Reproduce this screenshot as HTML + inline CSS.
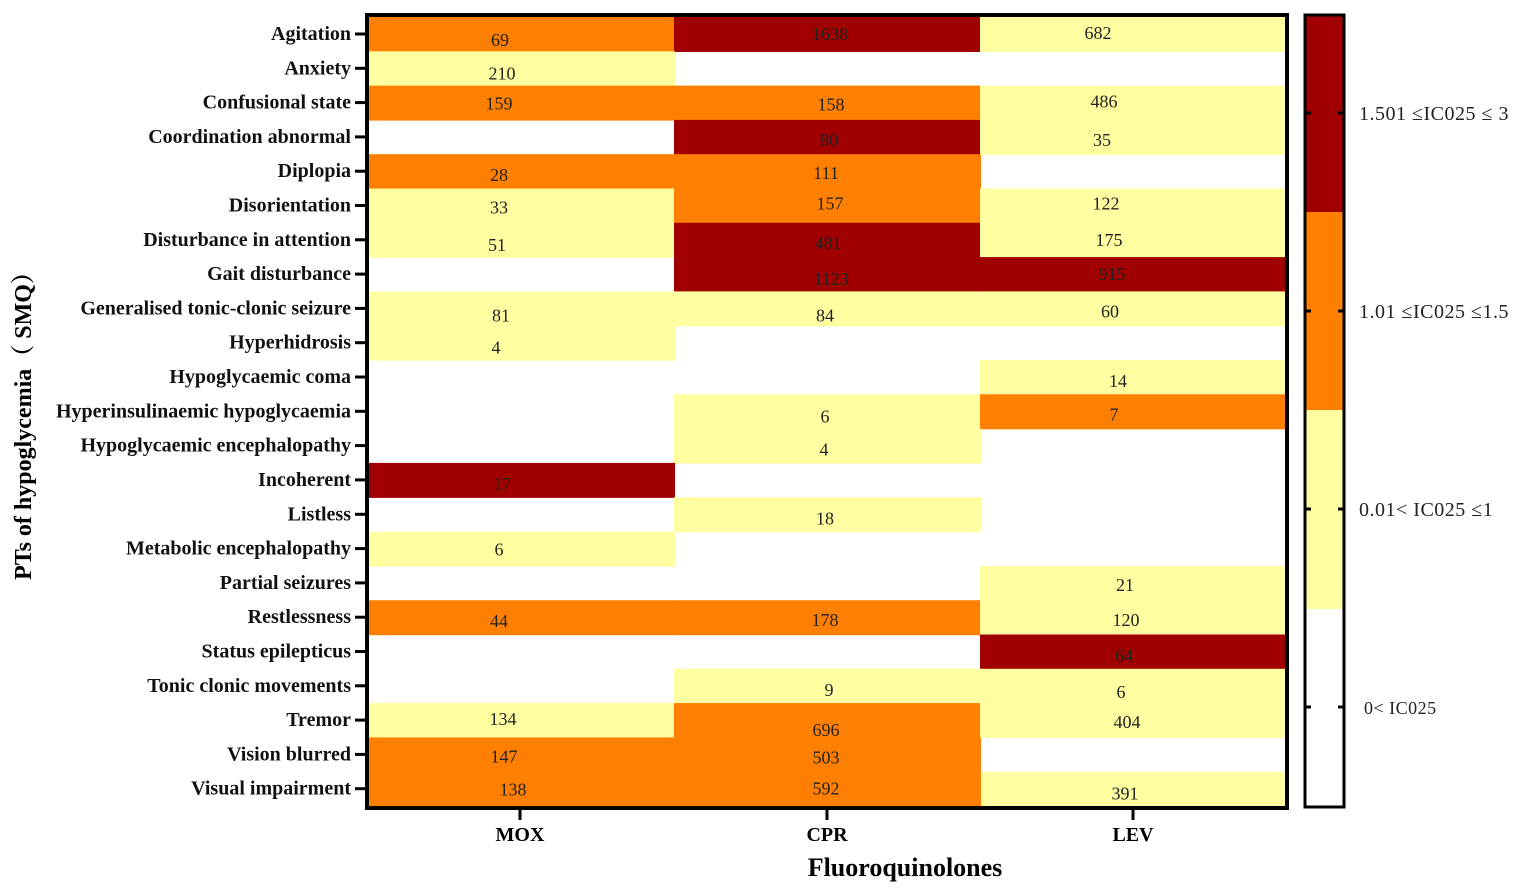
<!DOCTYPE html>
<html><head><meta charset="utf-8"><style>
html,body{margin:0;padding:0;background:#fff;}
svg{display:block;font-family:"Liberation Serif","Noto Serif CJK SC",serif;}
.n{font-size:18px;text-anchor:middle;fill:#222;}
.l{font-size:20px;font-weight:bold;text-anchor:end;fill:#111;}
.Y{fill:#ffffa2}.O{fill:#ff8000}.R{fill:#a00000}
</style></head><body>
<svg width="1535" height="891" viewBox="0 0 1535 891" xmlns="http://www.w3.org/2000/svg">
<defs><line id="tk" x1="355" x2="368" y1="17" y2="17" stroke="#000" stroke-width="3"/></defs>
<g transform="translate(0,17)"><rect class="O" x="369" width="306" height="35"/><rect class="R" x="674" width="307" height="35"/><rect class="Y" x="980" width="306" height="35"/><text class="n" x="500" y="29">69</text><text class="n" x="830" y="23">1638</text><text class="n" x="1098" y="22">682</text><text class="l" x="351" y="23">Agitation</text><use href="#tk"/></g>
<g transform="translate(0,51.3)"><rect class="Y" x="369" width="306" height="35"/><text class="n" x="502" y="28">210</text><text class="l" x="351" y="23">Anxiety</text><use href="#tk"/></g>
<g transform="translate(0,85.6)"><rect class="O" x="369" width="306" height="35"/><rect class="O" x="674" width="307" height="35"/><rect class="Y" x="980" width="306" height="35"/><text class="n" x="499" y="24">159</text><text class="n" x="831" y="25">158</text><text class="n" x="1104" y="22">486</text><text class="l" x="351" y="23">Confusional state</text><use href="#tk"/></g>
<g transform="translate(0,119.9)"><rect class="R" x="674" width="307" height="35"/><rect class="Y" x="980" width="306" height="35"/><text class="n" x="829" y="26">80</text><text class="n" x="1102" y="26">35</text><text class="l" x="351" y="23">Coordination abnormal</text><use href="#tk"/></g>
<g transform="translate(0,154.2)"><rect class="O" x="369" width="306" height="35"/><rect class="O" x="674" width="307" height="35"/><text class="n" x="499" y="27">28</text><text class="n" x="826" y="25">111</text><text class="l" x="351" y="23">Diplopia</text><use href="#tk"/></g>
<g transform="translate(0,188.5)"><rect class="Y" x="369" width="306" height="35"/><rect class="O" x="674" width="307" height="35"/><rect class="Y" x="980" width="306" height="35"/><text class="n" x="499" y="25">33</text><text class="n" x="830" y="21">157</text><text class="n" x="1106" y="21">122</text><text class="l" x="351" y="23">Disorientation</text><use href="#tk"/></g>
<g transform="translate(0,222.8)"><rect class="Y" x="369" width="306" height="35"/><rect class="R" x="674" width="307" height="35"/><rect class="Y" x="980" width="306" height="35"/><text class="n" x="497" y="28">51</text><text class="n" x="828" y="26">481</text><text class="n" x="1109" y="23">175</text><text class="l" x="351" y="23">Disturbance in attention</text><use href="#tk"/></g>
<g transform="translate(0,257.1)"><rect class="R" x="674" width="307" height="35"/><rect class="R" x="980" width="306" height="35"/><text class="n" x="831" y="28">1123</text><text class="n" x="1112" y="23">915</text><text class="l" x="351" y="23">Gait disturbance</text><use href="#tk"/></g>
<g transform="translate(0,291.4)"><rect class="Y" x="369" width="306" height="35"/><rect class="Y" x="674" width="307" height="35"/><rect class="Y" x="980" width="306" height="35"/><text class="n" x="501" y="30">81</text><text class="n" x="825" y="30">84</text><text class="n" x="1110" y="26">60</text><text class="l" x="351" y="23">Generalised tonic-clonic seizure</text><use href="#tk"/></g>
<g transform="translate(0,325.7)"><rect class="Y" x="369" width="306" height="35"/><text class="n" x="496" y="28">4</text><text class="l" x="351" y="23">Hyperhidrosis</text><use href="#tk"/></g>
<g transform="translate(0,360)"><rect class="Y" x="980" width="306" height="35"/><text class="n" x="1118" y="27">14</text><text class="l" x="351" y="23">Hypoglycaemic coma</text><use href="#tk"/></g>
<g transform="translate(0,394.3)"><rect class="Y" x="674" width="307" height="35"/><rect class="O" x="980" width="306" height="35"/><text class="n" x="825" y="28">6</text><text class="n" x="1114" y="26">7</text><text class="l" x="351" y="23">Hyperinsulinaemic hypoglycaemia</text><use href="#tk"/></g>
<g transform="translate(0,428.6)"><rect class="Y" x="674" width="307" height="35"/><text class="n" x="824" y="27">4</text><text class="l" x="351" y="23">Hypoglycaemic encephalopathy</text><use href="#tk"/></g>
<g transform="translate(0,462.9)"><rect class="R" x="369" width="306" height="35"/><text class="n" x="502" y="27">17</text><text class="l" x="351" y="23">Incoherent</text><use href="#tk"/></g>
<g transform="translate(0,497.3)"><rect class="Y" x="674" width="307" height="35"/><text class="n" x="825" y="27">18</text><text class="l" x="351" y="23">Listless</text><use href="#tk"/></g>
<g transform="translate(0,531.6)"><rect class="Y" x="369" width="306" height="35"/><text class="n" x="499" y="24">6</text><text class="l" x="351" y="23">Metabolic encephalopathy</text><use href="#tk"/></g>
<g transform="translate(0,565.9)"><rect class="Y" x="980" width="306" height="35"/><text class="n" x="1125" y="25">21</text><text class="l" x="351" y="23">Partial seizures</text><use href="#tk"/></g>
<g transform="translate(0,600.2)"><rect class="O" x="369" width="306" height="35"/><rect class="O" x="674" width="307" height="35"/><rect class="Y" x="980" width="306" height="35"/><text class="n" x="499" y="27">44</text><text class="n" x="825" y="26">178</text><text class="n" x="1126" y="26">120</text><text class="l" x="351" y="23">Restlessness</text><use href="#tk"/></g>
<g transform="translate(0,634.5)"><rect class="R" x="980" width="306" height="35"/><text class="n" x="1124" y="27">64</text><text class="l" x="351" y="23">Status epilepticus</text><use href="#tk"/></g>
<g transform="translate(0,668.8)"><rect class="Y" x="674" width="307" height="35"/><rect class="Y" x="980" width="306" height="35"/><text class="n" x="829" y="27">9</text><text class="n" x="1121" y="29">6</text><text class="l" x="351" y="23">Tonic clonic movements</text><use href="#tk"/></g>
<g transform="translate(0,703.1)"><rect class="Y" x="369" width="306" height="35"/><rect class="O" x="674" width="307" height="35"/><rect class="Y" x="980" width="306" height="35"/><text class="n" x="503" y="22">134</text><text class="n" x="826" y="33">696</text><text class="n" x="1127" y="25">404</text><text class="l" x="351" y="23">Tremor</text><use href="#tk"/></g>
<g transform="translate(0,737.4)"><rect class="O" x="369" width="306" height="35"/><rect class="O" x="674" width="307" height="35"/><text class="n" x="504" y="25">147</text><text class="n" x="826" y="26">503</text><text class="l" x="351" y="23">Vision blurred</text><use href="#tk"/></g>
<g transform="translate(0,771.7)"><rect class="O" x="369" width="306" height="35"/><rect class="Y" x="980" width="306" height="35"/><rect class="O" x="674" width="307" height="35"/><text class="n" x="513" y="24">138</text><text class="n" x="826" y="23">592</text><text class="n" x="1125" y="28">391</text><text class="l" x="351" y="23">Visual impairment</text><use href="#tk"/></g>
<rect x="367" y="15" width="920" height="793" fill="none" stroke="#000" stroke-width="4"/>
<line x1="520" x2="520" y1="808" y2="820" stroke="#000" stroke-width="3"/>
<line x1="827" x2="827" y1="808" y2="820" stroke="#000" stroke-width="3"/>
<line x1="1133" x2="1133" y1="808" y2="820" stroke="#000" stroke-width="3"/>
<text x="520" y="841" font-size="20" font-weight="bold" text-anchor="middle">MOX</text>
<text x="827" y="841" font-size="20" font-weight="bold" text-anchor="middle">CPR</text>
<text x="1133" y="841" font-size="20" font-weight="bold" text-anchor="middle">LEV</text>
<text x="905" y="876" font-size="26" font-weight="bold" text-anchor="middle">Fluoroquinolones</text>
<text transform="translate(31,420) rotate(-90)" font-size="24" font-weight="bold" text-anchor="middle">PTs of hypoglycemia（ SMQ）</text>
<rect x="1305" y="16" width="39" height="196" fill="#a00000"/>
<rect x="1305" y="212" width="39" height="198" fill="#ff8000"/>
<rect x="1305" y="410" width="39" height="199" fill="#ffffa2"/>
<rect x="1305" y="609" width="39" height="198" fill="#fff"/>
<rect x="1305" y="15" width="39" height="792" fill="none" stroke="#000" stroke-width="3"/>
<g stroke="#000" stroke-width="3">
<line x1="1305" x2="1311" y1="113" y2="113"/><line x1="1338" x2="1344" y1="113" y2="113"/>
<line x1="1305" x2="1311" y1="311" y2="311"/><line x1="1338" x2="1344" y1="311" y2="311"/>
<line x1="1305" x2="1311" y1="509" y2="509"/><line x1="1338" x2="1344" y1="509" y2="509"/>
<line x1="1305" x2="1311" y1="707" y2="707"/><line x1="1338" x2="1344" y1="707" y2="707"/>
</g>
<g font-size="20" fill="#222" letter-spacing="0.5">
<text x="1359" y="120">1.501  ≤IC025 ≤ 3</text>
<text x="1359" y="318">1.01 ≤IC025  ≤1.5</text>
<text x="1359" y="516">0.01&lt;  IC025  ≤1</text>
<text x="1364" y="714" font-size="18">0&lt; IC025</text>
</g>
</svg>
</body></html>
